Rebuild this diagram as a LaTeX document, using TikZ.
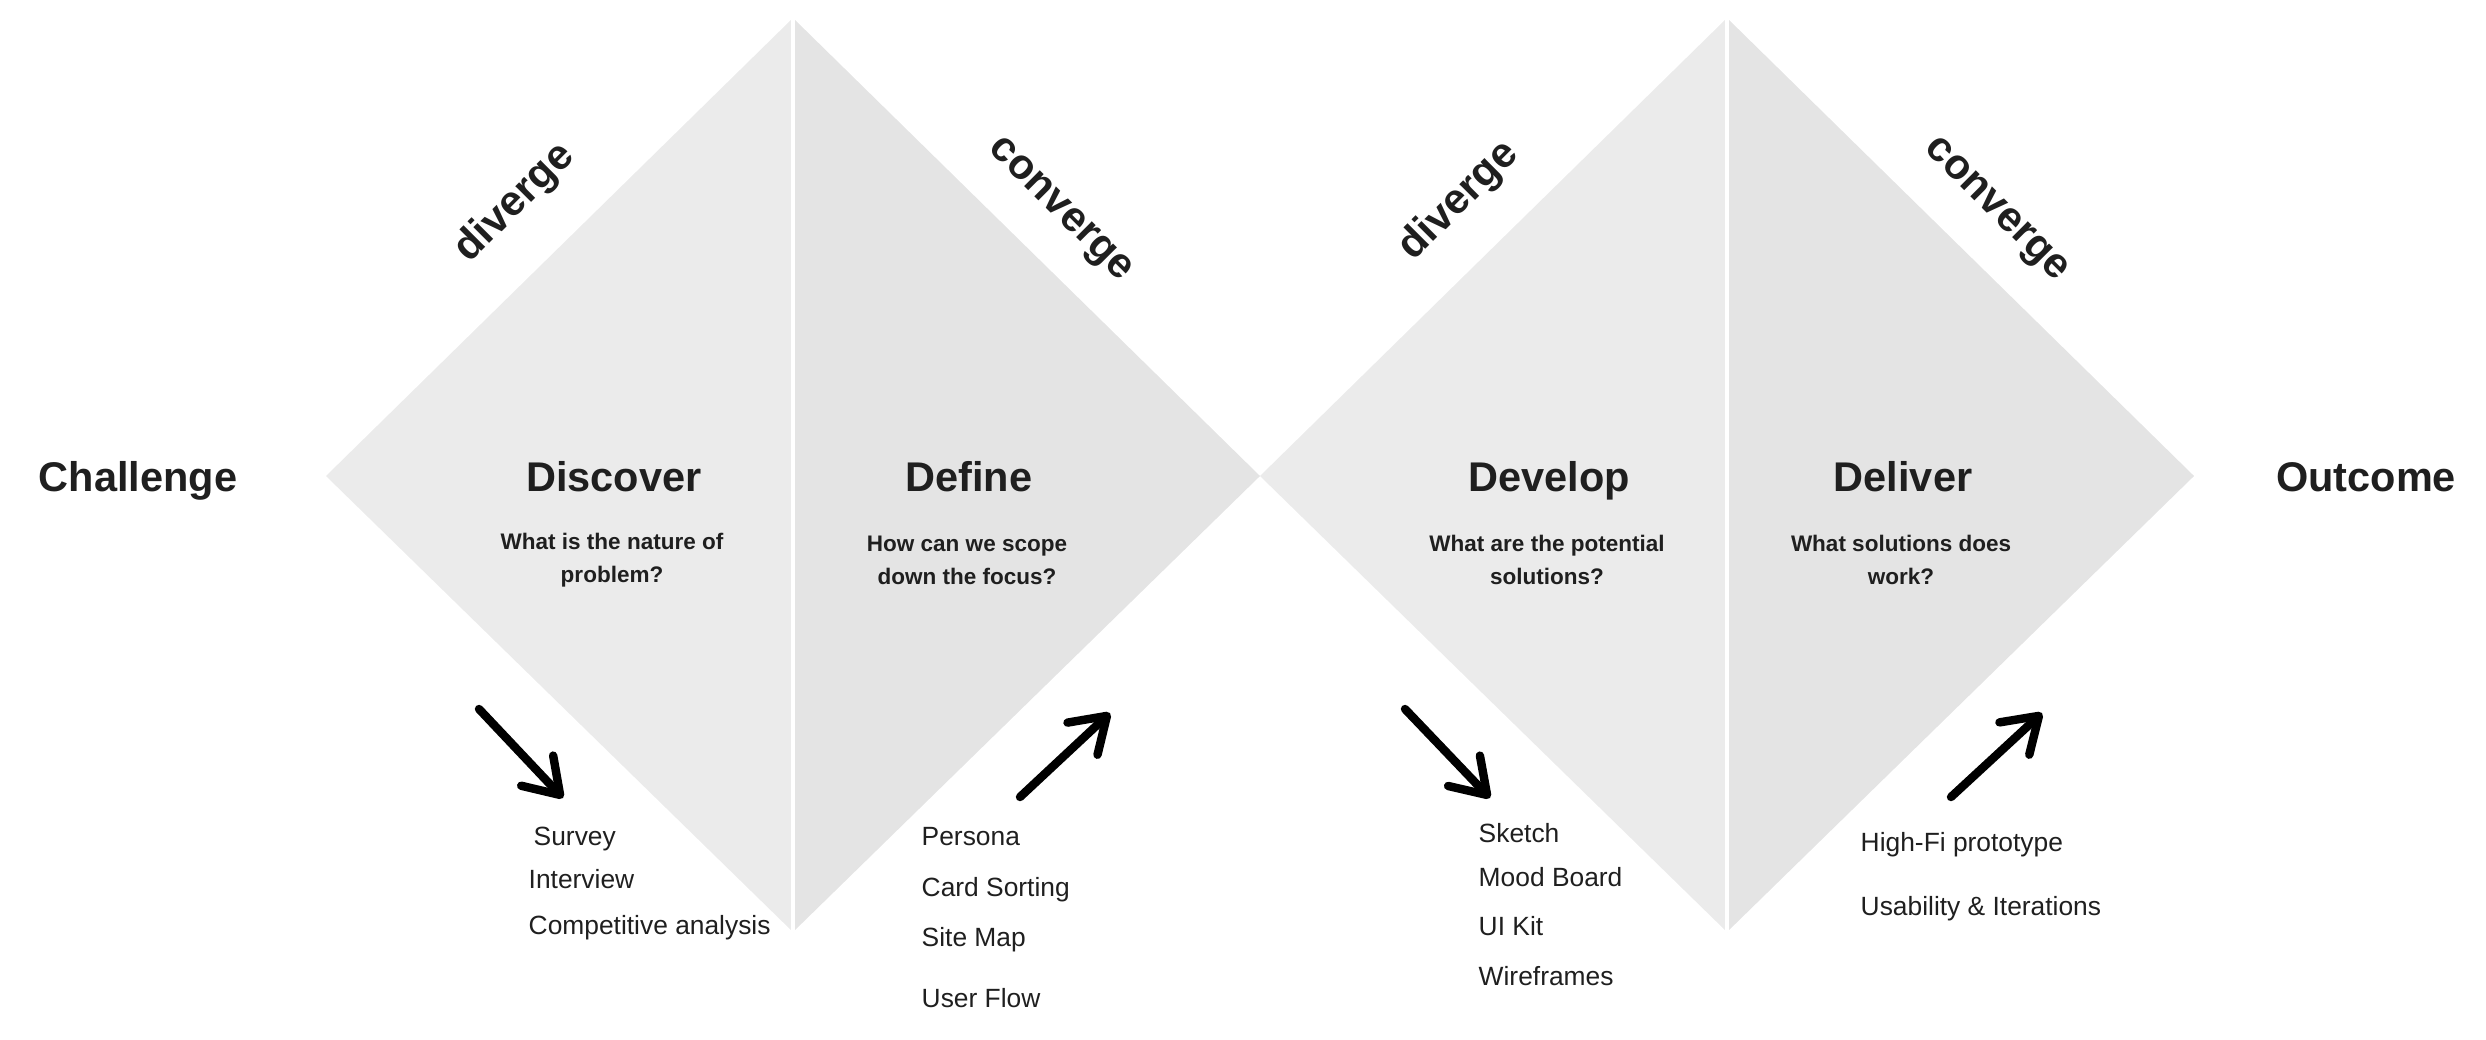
\documentclass[tikz,border=0pt]{standalone}
\usepackage{fontspec}
\setmainfont{Liberation Sans}
\usetikzlibrary{arrows.meta}
\definecolor{halfleft}{HTML}{EBEBEB}
\definecolor{halfright}{HTML}{E4E4E4}
\definecolor{ink}{HTML}{1F1F1F}
\tikzset{
  stage/.style={font=\fontsize{11.8}{14}\selectfont\bfseries, text=ink, inner sep=0pt, anchor=base},
  question/.style={font=\fontsize{6.4}{9.4}\selectfont\bfseries, text=ink, align=center, inner sep=0pt},
  phase/.style={font=\fontsize{12}{14}\selectfont\bfseries, text=ink, inner sep=0pt},
  item/.style={font=\fontsize{7.5}{9}\selectfont, text=ink, anchor=base west, inner sep=0pt},
  handarrow/.style={line width=2.4pt, line cap=round, black,
    -{Straight Barb[length=9.5pt,width=12.5pt,line cap=round,line join=round]}}
}

\begin{document}
\begin{tikzpicture}[x=0.01cm,y=-0.01cm]
\useasboundingbox (0,0) rectangle (2486,1039);

% the two diamonds
\coordinate (L1) at (326,476);
\coordinate (T1) at (793,18);
\coordinate (B1) at (793,932);
\coordinate (M) at (1260,476);
\coordinate (T2) at (1727,18);
\coordinate (B2) at (1727,932);
\coordinate (R2) at (2194,476);
\fill[halfleft] (L1)--(T1)--(B1)--cycle;
\fill[halfright] (T1)--(M)--(B1)--cycle;
\fill[halfleft] (M)--(T2)--(B2)--cycle;
\fill[halfright] (T2)--(R2)--(B2)--cycle;
\draw[white,line width=1.4pt] (T1)--(B1);% gap between halves
\draw[white,line width=1.4pt] (T2)--(B2);

% ends
\node[stage] (challenge) at (138,491) {Challenge};
\node[stage] (outcome) at (2366,491) {Outcome};

% stages
\node[stage] (discover) at (614,491) {Discover};
\node[stage] (define) at (969,491) {Define};
\node[stage] (develop) at (1549,491) {Develop};
\node[stage] (deliver) at (1903,491) {Deliver};

\node[question] (qdiscover) at (612,560) {What is the nature of\\problem?};
\node[question] (qdefine) at (967,560) {How can we scope\\down the focus?};
\node[question] (qdevelop) at (1547,560) {What are the potential\\solutions?};
\node[question] (qdeliver) at (1901,560) {What solutions does\\work?};

% diverge / converge along the edges
\node[phase,rotate=45] (div1) at (515,203) {diverge};
\node[phase,rotate=-45] (conv1) at (1059,211) {converge};
\node[phase,rotate=45] (div2) at (1459,201) {diverge};
\node[phase,rotate=-45] (conv2) at (1995,211) {converge};

% arrows
\coordinate (a1s) at (479,709);
\coordinate (a1e) at (563,798);
\coordinate (a2s) at (1020,797);
\coordinate (a2e) at (1110,713);
\coordinate (a3s) at (1405,709);
\coordinate (a3e) at (1490,798);
\coordinate (a4s) at (1951,797);
\coordinate (a4e) at (2042,713);
\draw[handarrow] (a1s) -- (a1e);
\draw[handarrow] (a2s) -- (a2e);
\draw[handarrow] (a3s) -- (a3e);
\draw[handarrow] (a4s) -- (a4e);

% methods
\node[item] (survey) at (533,845) {Survey};
\node[item] (interview) at (528,888) {Interview};
\node[item] (competitive) at (528,934) {Competitive analysis};

\node[item] (persona) at (921,845) {Persona};
\node[item] (cardsort) at (921,896) {Card Sorting};
\node[item] (sitemap) at (921,946) {Site Map};
\node[item] (userflow) at (921,1007) {User Flow};

\node[item] (sketch) at (1478,842) {Sketch};
\node[item] (moodboard) at (1478,886) {Mood Board};
\node[item] (uikit) at (1478,935) {UI Kit};
\node[item] (wireframes) at (1478,985) {Wireframes};

\node[item] (hifi) at (1860,851) {High-Fi prototype};
\node[item] (usability) at (1860,915) {Usability \& Iterations};

\end{tikzpicture}
\end{document}
